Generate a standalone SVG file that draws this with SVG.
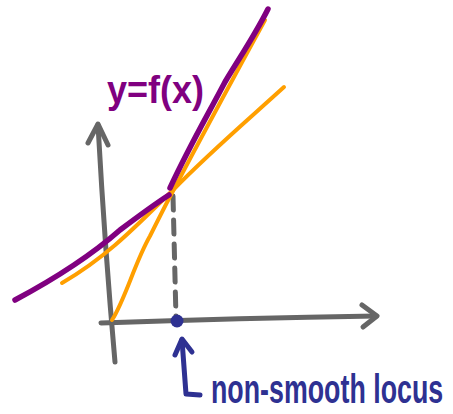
<svg xmlns="http://www.w3.org/2000/svg" width="453" height="414" viewBox="0 0 453 414">
<style>
.ax{fill:none;stroke:#666;stroke-width:5;stroke-linecap:round;stroke-linejoin:round}
.or{fill:none;stroke:#FF9F00;stroke-width:4;stroke-linecap:round;stroke-linejoin:round}
.pu{fill:none;stroke:#800080;stroke-width:5.5;stroke-linecap:round;stroke-linejoin:round}
.bl{fill:none;stroke:#2E3192;stroke-width:5;stroke-linecap:round;stroke-linejoin:round}
</style>
<rect width="453" height="414" fill="#fff"/>
<g id="axes">
<path class="ax" d="M115,362 Q105,250 98,125"/>
<path class="ax" d="M88,143 L98,124 L108,145"/>
<path class="ax" d="M101,323 Q240,318 376,316"/>
<path class="ax" d="M362,305 L377,316 L363,327"/>
<path class="ax" d="M173,196 L176,318" stroke-dasharray="14,10"/>
</g>
<g id="curves">
<path class="or" d="M62,283 C110,255 140,222 173,190 C210,152 250,118 284,87"/>
<path class="or" d="M112,320 C125,300 135,262 150,236 C158,220 165,206 173,191 C205,130 235,75 265,20"/>
<path class="pu" d="M15,300 C60,276 95,252 120,230 C140,215 155,204 169,195"/>
<path class="pu" d="M170,188 C190,145 205,120 225,82 C240,57 255,35 268,9"/>
</g>
<g id="label-fx">
<text x="107" y="103" font-family="'Liberation Sans',sans-serif" font-size="38" fill="#800080" font-weight="bold" textLength="97" lengthAdjust="spacingAndGlyphs">y=f(x)</text>
</g>
<g id="locus">
<circle cx="177" cy="321" r="6.5" fill="#2E3192"/>
<path class="bl" d="M175,355 L182,339 L192,352"/>
<path class="bl" d="M182,340 L186,394 L200,395"/>
<text transform="translate(211,403) scale(0.67,1)" x="0" y="0" font-family="'Liberation Sans',sans-serif" font-size="40" fill="#2E3192" font-weight="bold">non-smooth locus</text>
</g>
</svg>
